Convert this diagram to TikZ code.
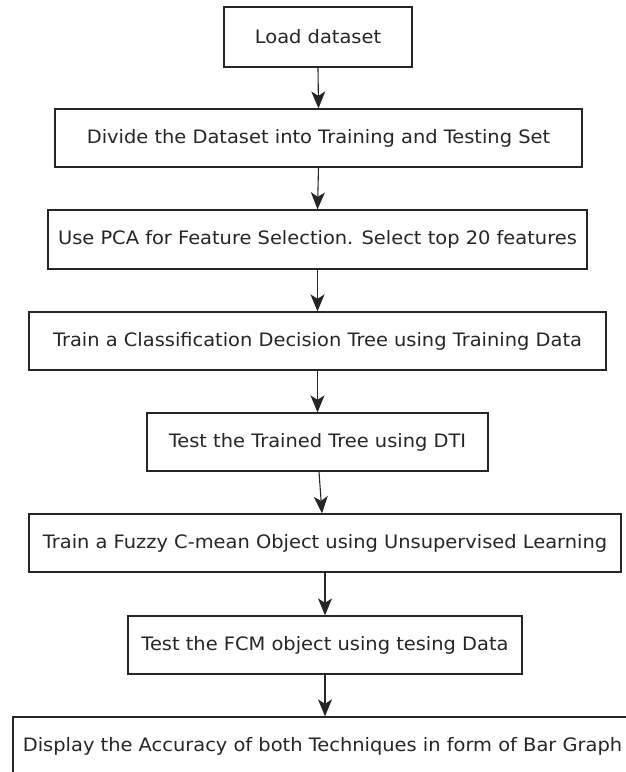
\documentclass[tikz,border=0pt]{standalone}
\usepackage{fontspec}
\setmainfont{DejaVu Sans}[FakeStretch=1.05]
\usepackage{tikz}
\usetikzlibrary{arrows.meta}

\begin{document}
\begin{tikzpicture}[x=1pt, y=-1pt,
  stage/.style={draw=black!85, line width=1.3pt, fill=white, inner sep=0pt,
    minimum height=58pt, text=black!85, font=\fontsize{18.5}{22}\selectfont},
  flow/.style={draw=black!85, line width=1.1pt,
    -{Stealth[length=17pt, width=14pt, inset=4.5pt]}}]
\useasboundingbox (0,0) rectangle (626,772);
\clip (0,0) rectangle (626,772);

% the steps, top to bottom
\node[stage, minimum width=188pt, minimum height=60pt] (load) at (318,37) {Load dataset};
\node[stage, minimum width=527pt] (divide) at (318.5,138) {Divide the Dataset into Training and Testing Set};
\node[stage, minimum width=539pt, minimum height=59pt] (pca) at (317.5,239.5) {Use PCA for Feature Selection. Select top 20 features};
\node[stage, minimum width=577pt] (traintree) at (317.5,341) {Train a Classification Decision Tree using Training Data};
\node[stage, minimum width=341pt] (testtree) at (317.5,442) {Test the Trained Tree using DTI};
\node[stage, minimum width=592pt] (trainfcm) at (325,543) {Train a Fuzzy C-mean Object using Unsupervised Learning};
\node[stage, minimum width=394pt] (testfcm) at (325,645) {Test the FCM object using tesing Data};
\node[stage, minimum width=624pt] (display) at (325,746) {};
\node[text=black!85, font=\fontsize{18.5}{22}\selectfont] (displaytext) at (322.5,746) {Display the Accuracy of both Techniques in form of Bar Graph};

% arrows
\draw[flow] (load.south) -- (divide.north);
\draw[flow] (divide.south) -- (pca.north);
\draw[flow] (pca.south) -- (traintree.north);
\draw[flow] (traintree.south) -- (testtree.north);
\draw[flow] ([xshift=1.5pt]testtree.south) -- ([xshift=-3pt]trainfcm.north);
\draw[flow] (trainfcm.south) -- (testfcm.north);
\draw[flow] (testfcm.south) -- (display.north);
\end{tikzpicture}
\end{document}
